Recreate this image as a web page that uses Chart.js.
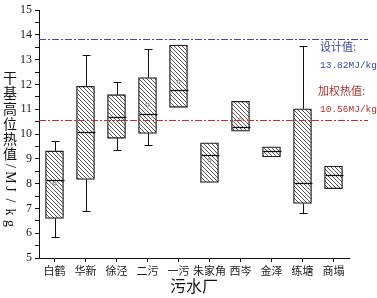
<!DOCTYPE html>
<html>
<head>
<meta charset="utf-8">
<script src="https://cdn.jsdelivr.net/npm/chart.js@4.4.1/dist/chart.umd.min.js"></script>
<style>
  html, body { margin: 0; padding: 0; background: #fff; }
  canvas { display: block; }
</style>
</head>
<body>
<canvas id="box" width="377" height="298"></canvas>
<script>
// dados
var plantas = ['白鹤', '华新', '徐泾', '二污', '一污', '朱家角', '西岑', '金泽', '练塘', '商塌'];
var minimos = [5.84, 6.88, 9.36, 9.56, null, null, null, null, 6.81, null];
var q1 = [6.6, 8.17, 9.83, 10.03, 11.08, 8.05, 10.12, 9.08, 7.2, 7.8];
var medianas = [8.15, 10.08, 10.69, 10.81, 11.77, 9.16, 10.28, 9.31, 8.03, 8.35];
var q3 = [9.32, 11.93, 11.59, 12.28, 13.59, 9.65, 11.32, 9.49, 11.02, 8.71];
var maximos = [9.72, 13.21, 12.09, 13.43, null, null, null, null, 13.55, null];
var medias = [8.0, null, null, 11.19, 12.12, 8.95, 10.59, null, null, null];
var valorProjeto = 13.82;
var valorPonderado = 10.56;

// padrão hachurado
function hachura() {
  var c = document.createElement('canvas');
  c.width = 4; c.height = 4;
  var g = c.getContext('2d');
  g.fillStyle = '#fff';
  g.fillRect(0, 0, 4, 4);
  g.strokeStyle = '#444';
  g.lineWidth = 0.9;
  g.beginPath();
  g.moveTo(-1, -1); g.lineTo(5, 5);
  g.moveTo(3, -1); g.lineTo(5, 1);
  g.moveTo(-1, 3); g.lineTo(1, 5);
  g.stroke();
  return g.createPattern(c, 'repeat');
}

var caixas = q1.map(function (v, i) { return [v, q3[i]]; });

// bigodes, medianas, linhas de referência e títulos
var extras = {
  id: 'extras',
  afterDatasetsDraw: function (chart) {
    var ctx = chart.ctx, x = chart.scales.x, y = chart.scales.y;
    var area = chart.chartArea;
    ctx.save();
    ctx.strokeStyle = '#111';
    ctx.lineWidth = 1;
    for (var i = 0; i < plantas.length; i++) {
      var px = Math.round(x.getPixelForValue(i)) + 0.5;
      if (maximos[i] != null) {
        var a = y.getPixelForValue(q3[i]), b = Math.round(y.getPixelForValue(maximos[i])) + 0.5;
        ctx.beginPath(); ctx.moveTo(px, a); ctx.lineTo(px, b);
        ctx.moveTo(px - 4, b); ctx.lineTo(px + 4, b); ctx.stroke();
      }
      if (minimos[i] != null) {
        var c = y.getPixelForValue(q1[i]), d = Math.round(y.getPixelForValue(minimos[i])) + 0.5;
        ctx.beginPath(); ctx.moveTo(px, c); ctx.lineTo(px, d);
        ctx.moveTo(px - 4, d); ctx.lineTo(px + 4, d); ctx.stroke();
      }
      var m = Math.round(y.getPixelForValue(medianas[i])) + 0.5;
      ctx.lineWidth = 1.3;
      ctx.beginPath(); ctx.moveTo(px - 9, m); ctx.lineTo(px + 9, m); ctx.stroke();
      ctx.lineWidth = 1;
    }
    // linhas de referência
    var refs = [[valorProjeto, '#3a48c8'], [valorPonderado, '#cc2a2a']];
    refs.forEach(function (r) {
      var py = Math.round(y.getPixelForValue(r[0])) + 0.5;
      ctx.strokeStyle = r[1];
      ctx.lineWidth = 1.2;
      ctx.setLineDash([7, 2, 2, 2]);
      ctx.beginPath(); ctx.moveTo(area.left, py); ctx.lineTo(area.right + 19, py); ctx.stroke();
    });
    ctx.setLineDash([]);
    // anotações
    ctx.textBaseline = 'middle';
    ctx.textAlign = 'left';
    ctx.fillStyle = '#3a44a8';
    ctx.font = '11px "Noto Sans CJK SC"';
    ctx.fillText('设计值:', 320, 47);
    ctx.font = '9.5px "Liberation Mono"';
    ctx.fillText(valorProjeto.toFixed(2) + 'MJ/kg', 320, 65);
    ctx.fillStyle = '#b0302c';
    ctx.font = '11px "Noto Sans CJK SC"';
    ctx.fillText('加权热值:', 318, 91);
    ctx.font = '9.5px "Liberation Mono"';
    ctx.fillText(valorPonderado.toFixed(2) + 'MJ/kg', 320, 109);
    // título do eixo y
    ctx.fillStyle = '#111';
    ctx.textAlign = 'center';
    ctx.font = '14px "Noto Sans CJK SC"';
    var chars = '干基高位热值';
    for (var k = 0; k < chars.length; k++) {
      ctx.fillText(chars[k], 10, 78 + k * 15.1);
    }
    ctx.translate(10, 0);
    ctx.rotate(Math.PI / 2);
    ctx.font = '14px "Liberation Serif"';
    var unid = '/MJ/kg';
    for (var j = 0; j < unid.length; j++) {
      ctx.fillText(unid[j], 166 + j * 11.5, 0);
    }
    ctx.restore();
  }
};

new Chart(document.getElementById('box'), {
  type: 'bar',
  data: {
    labels: plantas,
    datasets: [{
      data: caixas,
      backgroundColor: hachura(),
      borderColor: '#222',
      borderWidth: 1.3,
      borderSkipped: false,
      barThickness: 18,
      order: 2
    }, {
      type: 'line',
      data: medias,
      showLine: false,
      order: 1,
      pointStyle: 'rect',
      pointRadius: 2,
      pointBorderWidth: 0.8,
      pointBorderColor: '#777',
      pointBackgroundColor: 'rgba(255,255,255,0.8)'
    }]
  },
  plugins: [extras],
  options: {
    responsive: false,
    animation: false,
    layout: { padding: { top: 8, right: 28, left: 0, bottom: 0 } },
    plugins: { legend: { display: false }, tooltip: { enabled: false } },
    scales: {
      x: {
        offset: true,
        grid: { drawOnChartArea: false, tickLength: 4, tickColor: '#111', offset: false },
        border: { color: '#111', width: 1 },
        ticks: { color: '#222', font: { family: '"Noto Sans CJK SC"', size: 11 }, padding: 2, maxRotation: 0, autoSkip: false },
        title: { display: true, text: '污水厂', color: '#111', font: { family: '"Noto Sans CJK SC"', size: 16 }, padding: { top: 0, bottom: 2 } },
        afterFit: function (s) { s.height = 40; }
      },
      y: {
        min: 5,
        max: 15,
        grid: { drawOnChartArea: false, tickLength: 4, tickColor: '#111' },
        border: { color: '#111', width: 1 },
        ticks: {
          stepSize: 0.5,
          autoSkip: false,
          padding: 3,
          color: '#222',
          font: { family: '"Liberation Serif"', size: 12 },
          callback: function (v) { return Number.isInteger(v) ? v : ''; }
        },
        afterFit: function (s) { s.width = 39; }
      }
    }
  }
});
</script>
</body>
</html>
